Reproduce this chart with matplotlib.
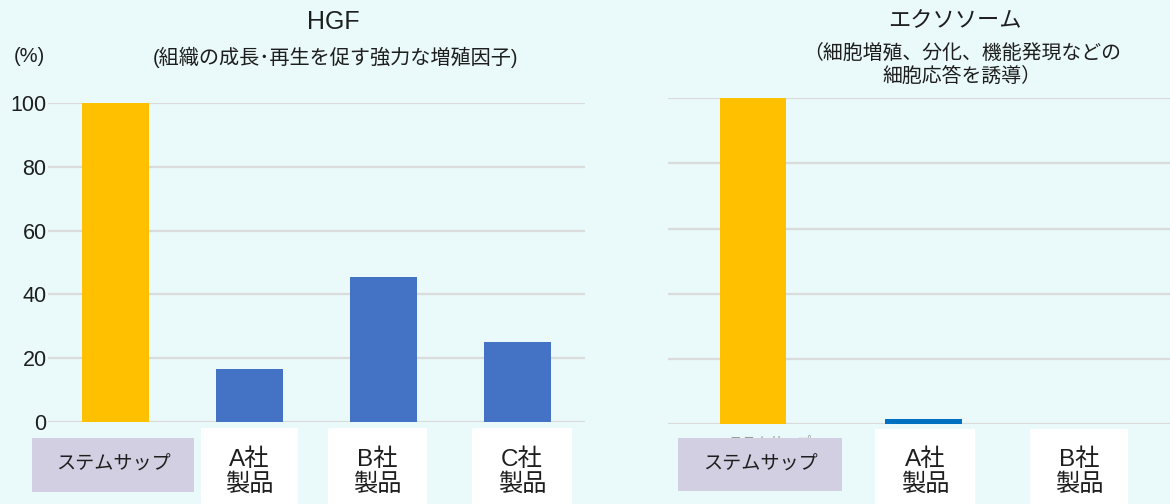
import matplotlib
matplotlib.use('Agg')
import matplotlib.pyplot as plt
from matplotlib.patches import Rectangle

plt.rcParams['font.family'] = ['Liberation Sans', 'Noto Sans CJK JP', 'DejaVu Sans']

# ---- data ----
hgf_categories = ['ステムサップ', 'A社\n製品', 'B社\n製品', 'C社\n製品']
hgf_values = [100, 16.5, 45.3, 25.0]
exo_categories = ['ステムサップ', 'A社\n製品', 'B社\n製品']
exo_values = [100, 1.5, 0]
y_ticks = [0, 20, 40, 60, 80, 100]
hgf_title = 'HGF'
hgf_sub = '(組織の成長･再生を促す強力な増殖因子)'
exo_title = 'エクソソーム'
exo_sub = '（細胞増殖、分化、機能発現などの\n細胞応答を誘導）'
unit_label = '(%)'

# ---- style ----
W, H = 1170, 504
BG = '#EAF9F9'
YELLOW = '#FFC000'
BLUE = '#4472C4'
DBLUE = '#0070C0'
LAV = '#D3CFE2'
GRID = '#DADCDC'
TXT = '#1E1E1E'

fig = plt.figure(figsize=(W / 100, H / 100), dpi=100, facecolor=BG)


def fx(px):
    return px / W


def fy(py):
    return 1 - py / H


def axes_px(x0, y_top, x1, y_bot):
    return [fx(x0), fy(y_bot), (x1 - x0) / W, (y_bot - y_top) / H]


def style_ax(ax):
    ax.set_facecolor('none')
    for s in ax.spines.values():
        s.set_visible(False)
    ax.set_ylim(0, 100)
    ax.set_yticks(y_ticks)
    ax.yaxis.grid(True, color=GRID, linewidth=1.6)
    ax.set_axisbelow(True)
    ax.tick_params(length=0, pad=1)
    ax.set_xticks([])


# left panel
ax1 = fig.add_axes(axes_px(48, 103.3, 585, 421.7))
style_ax(ax1)
ax1.set_xlim(-0.5, len(hgf_values) - 0.5)
ax1.bar(range(len(hgf_values)), hgf_values, width=0.5,
        color=[YELLOW, BLUE, BLUE, BLUE], zorder=3)
ax1.set_yticklabels([str(t) for t in y_ticks], fontsize=15.5, color=TXT)

# right panel
ax2 = fig.add_axes(axes_px(668, 98.3, 1178.5, 424))
style_ax(ax2)
ax2.set_xlim(-0.5, len(exo_values) - 0.5)
ax2.bar(range(len(exo_values)), exo_values, width=[0.39, 0.45, 0.45],
        color=[YELLOW, DBLUE, DBLUE], zorder=3)
ax2.set_yticklabels([])

# titles
fig.text(fx(333), fy(22), hgf_title, ha='center', va='center', fontsize=18, color=TXT)
fig.text(fx(335), fy(57), hgf_sub, ha='center', va='center', fontsize=14.5, color=TXT)
fig.text(fx(29), fy(57), unit_label, ha='center', va='center', fontsize=14.5, color=TXT)
fig.text(fx(955), fy(22), exo_title, ha='center', va='center', fontsize=16, color=TXT)
fig.text(fx(962), fy(64.5), exo_sub, ha='center', va='center', fontsize=14.3,
         color=TXT, linespacing=1.25)

# faint hidden tick label behind right lavender box
fig.text(fx(770), fy(443), exo_categories[0], ha='center', va='center',
         fontsize=10, color='#9A9A9A', zorder=1)

# category label boxes (x0, y0, x1, y1 in pixels)
left_boxes = [(32, 438, 194, 492), (201, 428, 298, 504), (328, 428, 427, 504), (472, 428, 572, 504)]
right_boxes = [(678, 438, 842, 491), (875, 429, 975, 504), (1030, 429, 1128, 504)]

for cats, boxes in ((hgf_categories, left_boxes), (exo_categories, right_boxes)):
    for i, (lab, (x0, y0, x1, y1)) in enumerate(zip(cats, boxes)):
        col = LAV if i == 0 else 'white'
        fig.add_artist(Rectangle((fx(x0), fy(y1)), (x1 - x0) / W, (y1 - y0) / H,
                                 transform=fig.transFigure, facecolor=col,
                                 edgecolor='none', zorder=2))
        if i == 0:
            fig.text(fx((x0 + x1) / 2), fy(465), lab, ha='center', va='center',
                     fontsize=13.8, color=TXT, zorder=3)
        else:
            fig.text(fx((x0 + x1) / 2), fy(472), lab, ha='center', va='center',
                     fontsize=17.5, color=TXT, linespacing=1.1, zorder=3)

fig.savefig('out.png', dpi=100, facecolor=BG)
